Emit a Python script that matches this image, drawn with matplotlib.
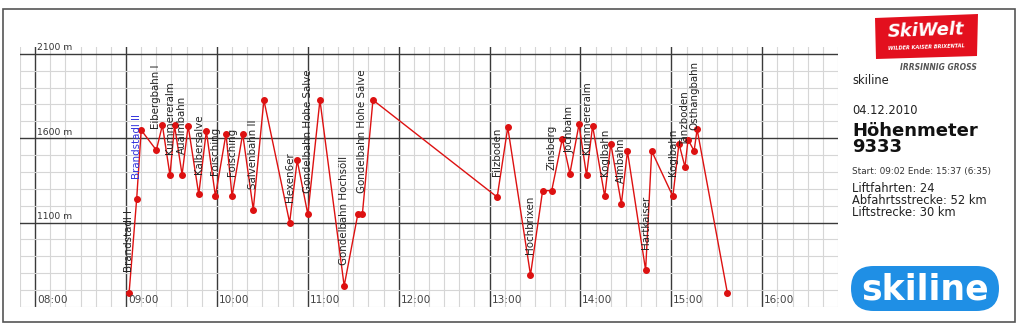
import numpy as np
import matplotlib
matplotlib.use('Agg')
import matplotlib.pyplot as plt
from matplotlib.patches import Rectangle, FancyBboxPatch, Polygon

# ride log: time of each point and altitude (m)
times = ["09:02", "09:07", "09:10", "09:20", "09:24", "09:29", "09:32", "09:37",
         "09:41", "09:48", "09:53", "09:59", "10:06", "10:10", "10:17", "10:24",
         "10:31", "10:48", "10:53", "11:00", "11:08", "11:24", "11:33", "11:36",
         "11:43", "13:05", "13:12", "13:27", "13:35", "13:41", "13:48", "13:53",
         "13:59", "14:04", "14:08", "14:16", "14:20", "14:27", "14:31", "14:43",
         "14:47", "15:01", "15:05", "15:09", "15:11", "15:15", "15:17", "15:37"]
altitude = [682, 1237, 1648, 1529, 1677, 1380, 1676, 1384, 1673, 1267, 1642, 1257,
            1626, 1255, 1626, 1177, 1826, 1100, 1469, 1149, 1826, 725, 1149, 1149,
            1826, 1251, 1664, 790, 1289, 1289, 1596, 1390, 1681, 1380, 1673, 1255,
            1568, 1211, 1523, 818, 1524, 1255, 1568, 1429, 1592, 1524, 1652, 682]

# lifts: name and index of the valley station point
lift_names = ["Brandstadl I", "Brandstadl II", "Eibergbahn I", "Kummereralm", "Aualmbahn",
              "Kalbersalve", "Foisching", "Foisching", "Salvenbahn II", "Hexen6er",
              "Gondelbahn Hohe Salve", "Gondelbahn Hochsöll", "Gondelbahn Hohe Salve",
              "Filzboden", "Hochbrixen", "Zinsberg", "Jochbahn", "Kummereralm", "Koglbahn",
              "Almbahn", "Hartkaiser", "Koglbahn", "Tanzboden", "Osthangbahn"]
lift_idx = [0, 1, 3, 5, 7, 9, 11, 13, 15, 17, 19, 21, 23, 25, 27, 29, 31, 33, 35,
            37, 39, 41, 43, 45]

hour_labels = ["08:00", "09:00", "10:00", "11:00", "12:00", "13:00", "14:00", "15:00", "16:00"]
alt_labels = [1100, 1600, 2100]

def to_hours(s):
    h, m = s.split(':')
    return int(h) + int(m) / 60.0

x = np.array([to_hours(t) for t in times])
y = np.array(altitude)

W, H = 1024, 334
fig = plt.figure(figsize=(W / 100, H / 100), dpi=100)
ax = fig.add_axes([20 / W, 27 / H, 818 / W, 260 / H])
ax.set_xlim(to_hours("07:50"), to_hours("16:50"))
ax.set_ylim(600, 2140)

ax.set_xticks([to_hours(h) for h in hour_labels])
ax.set_xticks(np.arange(7 + 50 / 60, 16 + 50 / 60 + 0.01, 1 / 6), minor=True)
ax.set_yticks(alt_labels)
ax.set_yticks(np.arange(600, 2101, 100), minor=True)
ax.grid(which='minor', color='#d6d6d6', lw=0.8)
ax.grid(which='major', color='#3a3a3a', lw=1.0)
ax.tick_params(which='both', length=0, labelbottom=False, labelleft=False)
for s in ax.spines.values():
    s.set_visible(False)

ax.plot(x, y, color='#dd1111', lw=1.0, marker='o', ms=4.0, zorder=3)

for name, i in zip(lift_names, lift_idx):
    col = '#3333dd' if name == "Brandstadl II" else '#222222'
    ax.annotate(name, (x[i], y[i]), xytext=(0, 15), textcoords='offset points',
                rotation=90, ha='center', va='bottom', fontsize=7.4, color=col)

for h in hour_labels:
    ax.text(to_hours(h) + 0.02, 612, h, fontsize=7.6, color='#444444', ha='left', va='bottom')
for a in alt_labels:
    ax.text(to_hours("08:00") + 0.02, a + 8, "%d m" % a, fontsize=6.6, color='#333333',
            ha='left', va='bottom')

# outer frame
fig.add_artist(Rectangle((3 / W, 12 / H), 1012 / W, 313 / H, transform=fig.transFigure,
                         fill=False, ec='#555555', lw=1.2))

# SkiWelt logo
logo = Polygon([[875 / W, 1 - 18 / H], [978 / W, 1 - 14 / H], [977 / W, 1 - 56 / H],
                [876 / W, 1 - 59 / H]], closed=True, transform=fig.transFigure,
               fc='#e3101e', ec='none')
fig.add_artist(logo)
fig.text(926 / W, 1 - 31 / H, "SkiWelt", fontsize=13, color='white', weight='bold',
         style='italic', ha='center', va='center', rotation=2)
fig.text(926 / W, 1 - 47 / H, "WILDER KAISER BRIXENTAL", fontsize=3.6, color='white',
         weight='bold', style='italic', ha='center', va='center', rotation=2)
fig.text(938 / W, 1 - 67 / H, "IRRSINNIG GROSS", fontsize=5.5, color='#555555',
         weight='bold', style='italic', ha='center', va='center')

# info panel
tx = 852 / W
fig.text(tx, 1 - 81 / H, "skiline", fontsize=8.3, color='#222222', va='center')
fig.text(tx, 1 - 110 / H, "04.12.2010", fontsize=8.3, color='#222222', va='center')
fig.text(tx, 1 - 131 / H, "Höhenmeter", fontsize=13, weight='bold', color='#111111', va='center')
fig.text(tx, 1 - 147 / H, "9333", fontsize=13, weight='bold', color='#111111', va='center')
fig.text(tx, 1 - 172 / H, "Start: 09:02 Ende: 15:37 (6:35)", fontsize=6.4, color='#333333', va='center')
fig.text(tx, 1 - 189 / H, "Liftfahrten: 24", fontsize=8.3, color='#222222', va='center')
fig.text(tx, 1 - 201 / H, "Abfahrtsstrecke: 52 km", fontsize=8.3, color='#222222', va='center')
fig.text(tx, 1 - 213 / H, "Liftstrecke: 30 km", fontsize=8.3, color='#222222', va='center')

# skiline logo
fig.add_artist(FancyBboxPatch((851 / W, 1 - 311 / H), 148 / W, 45 / H,
                              boxstyle="round,pad=0,rounding_size=0.022",
                              transform=fig.transFigure, fc='#1f8fe5', ec='none',
                              mutation_aspect=W / H))
fig.text(925 / W, 1 - 289 / H, "skiline", fontsize=25, weight='bold', color='white',
         ha='center', va='center')

fig.savefig('out.png', dpi=100, facecolor='white')
